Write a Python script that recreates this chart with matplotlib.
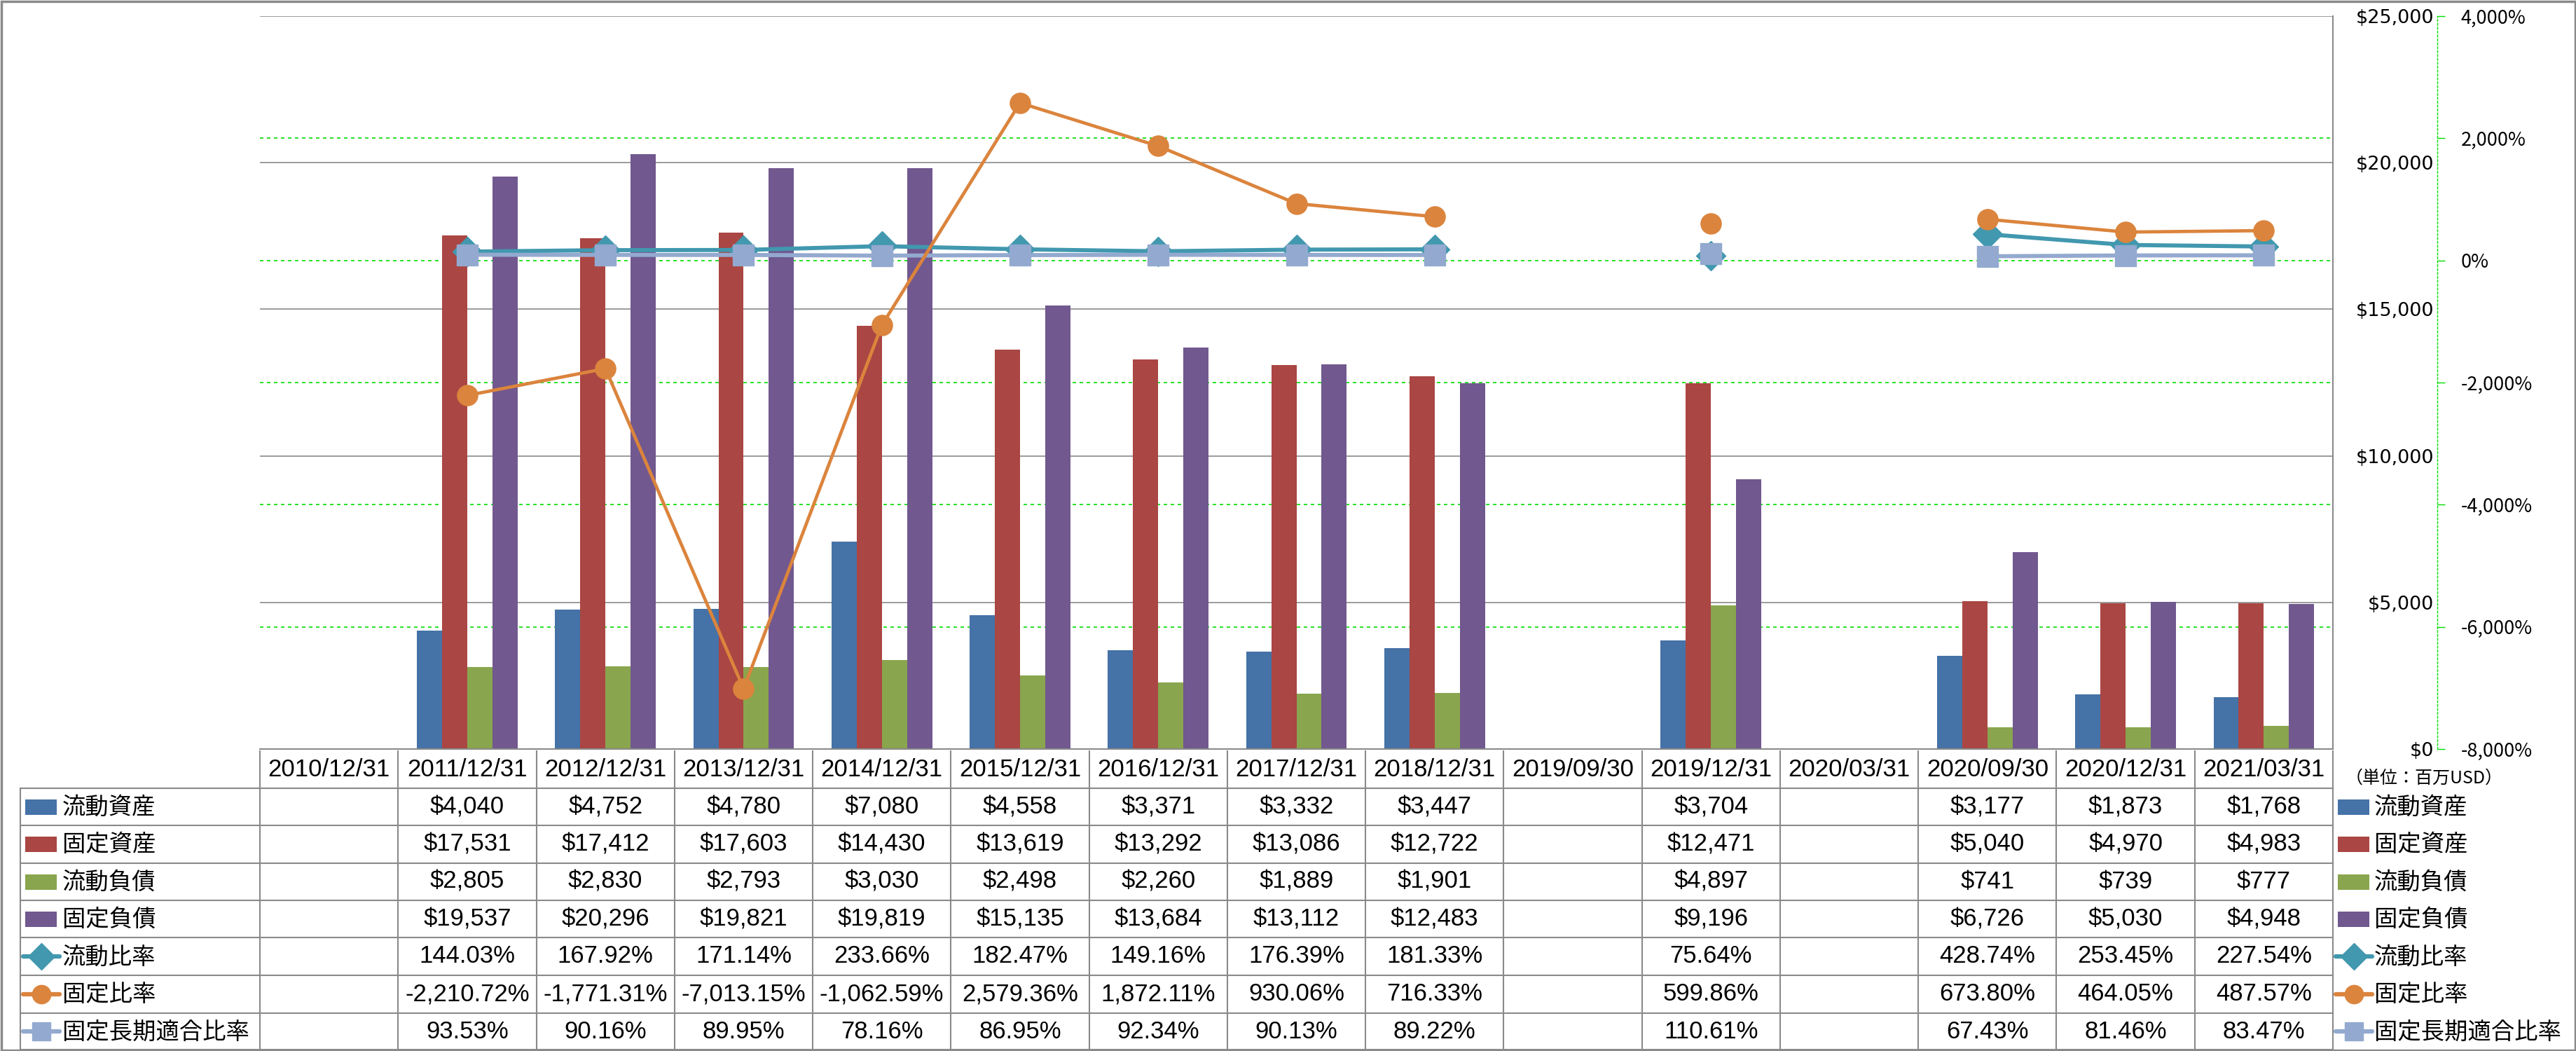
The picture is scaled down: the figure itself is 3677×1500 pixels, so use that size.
import matplotlib
matplotlib.use("Agg")
import matplotlib.pyplot as plt
import matplotlib.transforms as mtransforms
from matplotlib.patches import Rectangle
from matplotlib.lines import Line2D
import numpy as np

plt.rcParams['font.family'] = ['Noto Sans CJK JP', 'DejaVu Sans']

nan = np.nan
dates = ["2010/12/31", "2011/12/31", "2012/12/31", "2013/12/31", "2014/12/31",
         "2015/12/31", "2016/12/31", "2017/12/31", "2018/12/31", "2019/09/30",
         "2019/12/31", "2020/03/31", "2020/09/30", "2020/12/31", "2021/03/31"]

current_assets = [nan, 4040, 4752, 4780, 7080, 4558, 3371, 3332, 3447, nan, 3704, nan, 3177, 1873, 1768]
fixed_assets = [nan, 17531, 17412, 17603, 14430, 13619, 13292, 13086, 12722, nan, 12471, nan, 5040, 4970, 4983]
current_liab = [nan, 2805, 2830, 2793, 3030, 2498, 2260, 1889, 1901, nan, 4897, nan, 741, 739, 777]
fixed_liab = [nan, 19537, 20296, 19821, 19819, 15135, 13684, 13112, 12483, nan, 9196, nan, 6726, 5030, 4948]

current_ratio = [nan, 144.03, 167.92, 171.14, 233.66, 182.47, 149.16, 176.39, 181.33, nan, 75.64, nan, 428.74, 253.45, 227.54]
fixed_ratio = [nan, -2210.72, -1771.31, -7013.15, -1062.59, 2579.36, 1872.11, 930.06, 716.33, nan, 599.86, nan, 673.80, 464.05, 487.57]
fixed_lt_ratio = [nan, 93.53, 90.16, 89.95, 78.16, 86.95, 92.34, 90.13, 89.22, nan, 110.61, nan, 67.43, 81.46, 83.47]

bar_names = ["流動資産", "固定資産", "流動負債", "固定負債"]
bar_colors = ["#4572A7", "#AA4643", "#89A54E", "#71588F"]
line_names = ["流動比率", "固定比率", "固定長期適合比率"]
line_colors = ["#4198AF", "#DB843D", "#93A9CF"]
line_markers = ["D", "o", "s"]

W, H = 3677, 1500
L, R, TOP, BOT = 371, 3330, 23, 1069
GRAY = "#8a8a8a"
GREEN = "#00dd00"

fig = plt.figure(figsize=(W / 100, H / 100), dpi=100)
ax = fig.add_axes([L / W, 1 - BOT / H, (R - L) / W, (BOT - TOP) / H])
ax2 = ax.twinx()

x = np.arange(len(dates))
bw = 0.182
bar_series = [current_assets, fixed_assets, current_liab, fixed_liab]
for k, (vals, col) in enumerate(zip(bar_series, bar_colors)):
    ax.bar(x + (k - 1.5) * bw, vals, width=bw, color=col, zorder=2)

ax.set_xlim(-0.5, len(dates) - 0.5)
ax.set_ylim(0, 25000)
ax.set_xticks([])
ax.yaxis.tick_right()
ax.set_yticks(np.arange(0, 25001, 5000))
ax.set_yticklabels(["${:,}".format(v) for v in range(0, 25001, 5000)])
ax.tick_params(axis='y', length=0, pad=104, labelsize=19.5)
for t in ax.yaxis.get_major_ticks():
    t.label2.set_fontsize(19.5)
    t.label2.set_fontfamily('DejaVu Sans')
    t.label2.set_ha('right')
ax.grid(axis='y', color=GRAY, lw=1.2)
ax.set_axisbelow(True)
for s in ['top', 'left']:
    ax.spines[s].set_visible(False)
ax.spines['right'].set_color(GRAY)
ax.spines['right'].set_linewidth(1.5)
ax.spines['bottom'].set_color(GRAY)
ax.spines['bottom'].set_linewidth(1.5)

# secondary axis (ratios, %)
ax2.set_ylim(-8000, 4000)
pct_ticks = np.arange(-8000, 4001, 2000)
ax2.set_yticks(pct_ticks)
ax2.set_yticklabels(["{:,}%".format(v) for v in pct_ticks])
ax2.tick_params(axis='y', length=8, width=1, color=GREEN, pad=16.5, labelsize=19.5)
for t, v in zip(ax2.yaxis.get_major_ticks(), pct_ticks):
    t.label2.set_fontsize(19.5)
    t.label2.set_fontfamily('DejaVu Sans')
    t.label2.set_color('red' if v < 0 else 'black')
for s in ['top', 'left', 'bottom']:
    ax2.spines[s].set_visible(False)
ax2.spines['right'].set_position(('outward', 107))
ax2.spines['right'].set_color(GREEN)
ax2.spines['right'].set_linestyle((0, (2, 2)))
ax2.spines['right'].set_linewidth(1)

# green gridlines for the % axis, behind the bars
gtrans = mtransforms.blended_transform_factory(ax.transAxes, ax2.transData)
for v in pct_ticks[1:-1]:
    ax.plot([0, 1], [v, v], transform=gtrans, color=GREEN, lw=1.2,
            ls=(0, (3, 3)), zorder=1)

line_series = [current_ratio, fixed_lt_ratio, fixed_ratio]
order = [0, 2, 1]
lwidths = [4.2, 3.4, 4.2]
for vals, idx in zip(line_series, order):
    ax2.plot(x, vals, color=line_colors[idx], lw=lwidths[idx], marker=line_markers[idx],
             ms=21, mec=line_colors[idx], mfc=line_colors[idx],
             solid_capstyle='round')

# data table
tab = fig.add_axes([0, 0, 1, 1], zorder=-1)
tab.set_xlim(0, W)
tab.set_ylim(H, 0)
tab.axis('off')
btrans = mtransforms.blended_transform_factory(ax.transData, tab.transData)

rows = [1072, 1125, 1178, 1232, 1285, 1338, 1392, 1446, 1498]
for y in rows[1:]:
    tab.plot([29, R], [y, y], color=GRAY, lw=1.5)
tab.plot([29, 29], [rows[1], rows[-1]], color=GRAY, lw=1.5)
for i in range(len(dates) + 1):
    tab.plot([i - 0.5, i - 0.5], [rows[0], rows[-1]], color=GRAY, lw=1.5, transform=btrans)

num_font = dict(family=['Liberation Sans Narrow', 'Liberation Sans'], fontsize=25)
hdr_y = (rows[0] + rows[1]) / 2
for i, d in enumerate(dates):
    tab.text(i, hdr_y, d, transform=btrans, ha='center', va='center', **num_font)

money_rows = [current_assets, fixed_assets, current_liab, fixed_liab]
pct_rows = [current_ratio, fixed_ratio, fixed_lt_ratio]
all_rows = [(v, "${:,.0f}") for v in money_rows] + [(v, "{:,.2f}%") for v in pct_rows]
for r, (vals, fmt) in enumerate(all_rows):
    yc = (rows[r + 1] + rows[r + 2]) / 2
    for i, v in enumerate(vals):
        if not np.isnan(v):
            tab.text(i, yc, fmt.format(v), transform=btrans, ha='center', va='center', **num_font)

# legend keys in the table (left) and beside it (right)
names = bar_names + line_names
for r, name in enumerate(names):
    yc = (rows[r + 1] + rows[r + 2]) / 2
    for x0, tx in [(36, 89), (3337, 3389)]:
        if r < 4:
            tab.add_patch(Rectangle((x0, yc - 11), 45, 22, color=bar_colors[r], lw=0))
        else:
            k = r - 4
            tab.add_line(Line2D([x0 - 3, x0 + 49], [yc, yc], color=line_colors[k], lw=4.5,
                                solid_capstyle='round'))
            tab.add_line(Line2D([x0 + 23], [yc], marker=line_markers[k], ms=19,
                                color=line_colors[k]))
        tab.text(tx, yc + 1, name, ha='left', va='center', fontsize=24)

tab.text(3348, 1111, "（単位：百万USD）", ha='left', va='center', fontsize=18)

tab.add_patch(Rectangle((1.5, 1.5), W - 3, H - 3, fill=False, edgecolor=GRAY, lw=2.5))

fig.savefig("out.png", dpi=100)
